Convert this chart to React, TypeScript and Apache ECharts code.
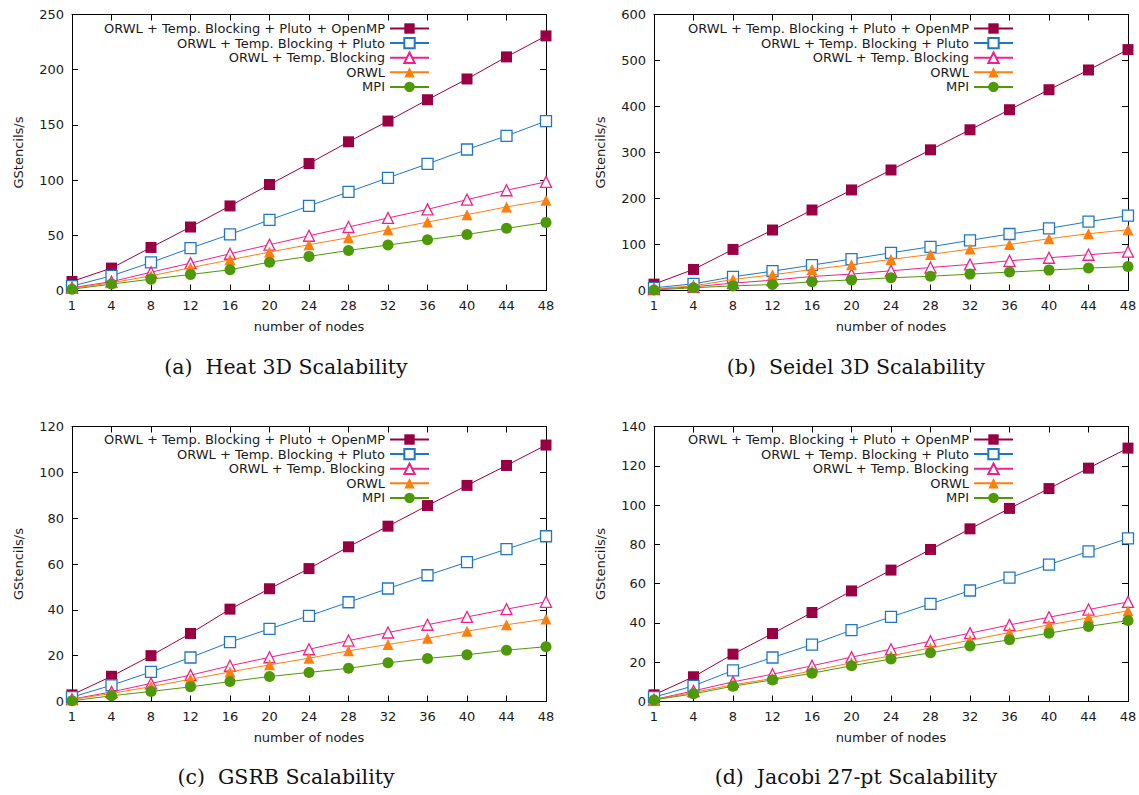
import React, { useEffect, useRef } from 'react';
import * as echarts from 'echarts';

const nodes = ['1', '4', '8', '12', '16', '20', '24', '28', '32', '36', '40', '44', '48'];
const seriesNames = [
  'ORWL + Temp. Blocking + Pluto + OpenMP',
  'ORWL + Temp. Blocking + Pluto',
  'ORWL + Temp. Blocking',
  'ORWL',
  'MPI',
];
const captions = [
  '(a)  Heat 3D Scalability',
  '(b)  Seidel 3D Scalability',
  '(c)  GSRB Scalability',
  '(d)  Jacobi 27-pt Scalability',
];
const yMax = [250, 600, 120, 140];
const yStep = [50, 100, 20, 20];

// (a) Heat 3D
const heatOpenMP = [8.2, 20.3, 39, 57.5, 76.6, 96, 115, 134.7, 153.5, 172.8, 191.6, 211.6, 230.6];
const heatPluto = [4, 13.3, 25.4, 38.4, 50.8, 63.9, 76.6, 89.3, 102, 114.7, 127.7, 140.1, 153.5];
const heatTB = [2.5, 8, 16.6, 24.8, 33.3, 41.5, 49.6, 57.5, 65.7, 73.5, 82.3, 90.8, 98.4];
const heatORWL = [2, 7, 13.3, 20.6, 27.8, 34.8, 41.5, 47.8, 55, 62, 68.7, 75.7, 81.7];
const heatMPI = [1.2, 5.8, 10.3, 14.5, 18.8, 25.7, 30.9, 36.3, 41.2, 46, 50.8, 56.3, 61.7];

// (b) Seidel 3D
const seidelOpenMP = [13.8, 45.8, 89.3, 131.5, 175, 218.6, 262, 305.8, 349.4, 393, 436.5, 479.4, 523.7];
const seidelPluto = [5.8, 14.5, 29.8, 42, 55.2, 68.3, 82, 95, 109, 122.8, 135, 149.6, 162.7];
const seidelTB = [3, 8, 16, 22.5, 30.5, 35.6, 42.9, 50, 56.7, 64.6, 71.2, 77.7, 84.3];
const seidelORWL = [3.6, 10, 24, 34, 45.8, 56, 67.6, 78.4, 90, 100, 112.6, 123.5, 132];
const seidelMPI = [1, 6, 10, 13, 19, 23, 27.6, 31, 35.6, 40, 44.3, 48.7, 52.3];

// (c) GSRB
const gsrbOpenMP = [2.9, 11, 20, 29.7, 40.3, 49.2, 58, 67.5, 76.5, 85.5, 94.3, 103, 111.9];
const gsrbPluto = [1.9, 7.1, 12.9, 19.2, 25.9, 31.7, 37.4, 43.3, 49.3, 55.1, 60.8, 66.5, 72.1];
const gsrbTB = [1, 4.2, 7.9, 11.5, 15.6, 19.3, 22.8, 26.6, 30.1, 33.5, 36.9, 40.3, 43.5];
const gsrbORWL = [0.9, 3.5, 6.5, 9.7, 12.9, 16, 18.9, 22.1, 24.9, 27.6, 30.7, 33.5, 36];
const gsrbMPI = [0.3, 2.5, 4.4, 6.4, 8.7, 10.9, 12.7, 14.5, 16.9, 18.8, 20.4, 22.4, 23.9];

// (d) Jacobi 27-pt
const jacobiOpenMP = [3.4, 12.6, 24.1, 34.6, 45.3, 56.3, 66.9, 77.4, 87.9, 98.3, 108.4, 118.8, 129];
const jacobiPluto = [2.2, 8, 15.8, 22.4, 29, 36.3, 43.1, 49.7, 56.5, 63.1, 69.7, 76.4, 83];
const jacobiTB = [1, 5.4, 10, 13.9, 18.2, 22.6, 26.6, 30.7, 34.8, 39, 42.9, 46.8, 50.7];
const jacobiORWL = [1, 4.6, 8.5, 11.7, 15.6, 19.7, 23.2, 27.3, 31.2, 35.1, 39, 42.6, 46.2];
const jacobiMPI = [0.8, 3.9, 7.8, 11, 14.4, 18.2, 21.6, 24.8, 28.3, 31.4, 34.8, 38.2, 41.2];

const panelData = [
  [heatOpenMP, heatPluto, heatTB, heatORWL, heatMPI],
  [seidelOpenMP, seidelPluto, seidelTB, seidelORWL, seidelMPI],
  [gsrbOpenMP, gsrbPluto, gsrbTB, gsrbORWL, gsrbMPI],
  [jacobiOpenMP, jacobiPluto, jacobiTB, jacobiORWL, jacobiMPI],
];

const FONT = 'DejaVu Sans';
const TXT = '#1a1a1a';
const FS = 13;

const styles = [
  { color: '#990044', symbol: 'rect', filled: true },
  { color: '#1f77c4', symbol: 'rect', filled: false },
  { color: '#f0208c', symbol: 'triangle', filled: false },
  { color: '#ff7f0e', symbol: 'triangle', filled: true },
  { color: '#4e9a06', symbol: 'circle', filled: true },
];

const grids = [
  { left: 72, top: 14.5, width: 474, height: 276 },
  { left: 654, top: 14.5, width: 474, height: 276 },
  { left: 72, top: 426.5, width: 474, height: 275 },
  { left: 654, top: 426.5, width: 474, height: 275 },
];
const legendPos = [
  { right: 709, top: 22 },
  { right: 125, top: 22 },
  { right: 709, top: 433 },
  { right: 125, top: 433 },
];
const captionPos = [
  { x: 286, y: 367 },
  { x: 856, y: 367 },
  { x: 286, y: 777 },
  { x: 856, y: 777 },
];

function buildOption() {
  const grid: any[] = [];
  const xAxis: any[] = [];
  const yAxis: any[] = [];
  const series: any[] = [];
  const legend: any[] = [];
  const graphic: any[] = [];
  const axisLine = { show: true, onZero: false, lineStyle: { color: '#000', width: 1 } };
  const axisTick = { show: true, inside: true, length: 6, lineStyle: { color: '#000', width: 1 } };

  for (let p = 0; p < 4; p++) {
    grid.push({ ...grids[p], containLabel: false, outerBoundsMode: 'none' });
    xAxis.push({
      type: 'category', gridIndex: p, data: nodes, boundaryGap: false, position: 'bottom',
      axisLine, axisTick: { ...axisTick, interval: 0 },
      axisLabel: { interval: 0, margin: 8, fontSize: FS, fontFamily: FONT, color: TXT },
      splitLine: { show: false },
      name: 'number of nodes', nameLocation: 'middle', nameGap: 29,
      nameTextStyle: { fontSize: FS, fontFamily: FONT, color: TXT },
    });
    xAxis.push({
      type: 'category', gridIndex: p, data: nodes, boundaryGap: false, position: 'top',
      axisLine, axisTick: { ...axisTick, interval: 0 }, axisLabel: { show: false }, splitLine: { show: false },
    });
    yAxis.push({
      type: 'value', gridIndex: p, min: 0, max: yMax[p], interval: yStep[p], position: 'left',
      axisLine, axisTick,
      axisLabel: { margin: 8, fontSize: FS, fontFamily: FONT, color: TXT },
      splitLine: { show: false },
      name: 'GStencils/s', nameLocation: 'middle', nameGap: 47, nameRotate: 90,
      nameTextStyle: { fontSize: FS, fontFamily: FONT, color: TXT },
    });
    yAxis.push({
      type: 'value', gridIndex: p, min: 0, max: yMax[p], interval: yStep[p], position: 'right',
      axisLine, axisTick, axisLabel: { show: false }, splitLine: { show: false },
    });
    for (let s = 0; s < 5; s++) {
      const st = styles[s];
      series.push({
        type: 'line',
        name: seriesNames[s],
        xAxisIndex: p * 2,
        yAxisIndex: p * 2,
        data: panelData[p][s],
        symbol: st.symbol,
        symbolSize: 11,
        showAllSymbol: true,
        lineStyle: { color: st.color, width: 1 },
        itemStyle: st.filled
          ? { color: st.color, borderWidth: 0 }
          : { color: '#ffffff', borderColor: st.color, borderWidth: 1.3 },
        emphasis: { disabled: true },
        z: 2 + s,
      });
    }
    legend.push({
      ...legendPos[p],
      orient: 'vertical',
      align: 'right',
      padding: 0,
      itemWidth: 39,
      itemHeight: 13,
      itemGap: 1.6,
      selectedMode: false,
      data: seriesNames,
      textStyle: { fontSize: FS, fontFamily: FONT, color: TXT, padding: [0, 0, 0, 0] },
    });
    graphic.push({
      type: 'text',
      x: captionPos[p].x,
      y: captionPos[p].y,
      style: {
        text: captions[p],
        fontSize: 20.5,
        fontFamily: 'DejaVu Serif',
        fill: '#111',
        align: 'center',
        verticalAlign: 'middle',
      },
    });
  }
  return {
    animation: false,
    backgroundColor: '#ffffff',
    grid, xAxis, yAxis, series, legend, graphic,
  };
}

export default function App() {
  const ref = useRef<HTMLDivElement>(null);
  useEffect(() => {
    if (!ref.current) return;
    const chart = echarts.init(ref.current, undefined, { renderer: 'svg' });
    chart.setOption(buildOption() as any);
    return () => chart.dispose();
  }, []);
  return (
    <div
      ref={ref}
      style={{ position: 'fixed', left: 0, top: 0, width: 1139, height: 795, background: '#fff' }}
    />
  );
}
